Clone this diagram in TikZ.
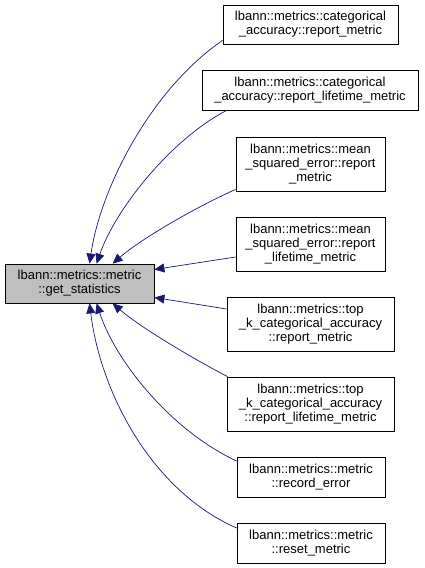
\documentclass[tikz,border=0pt]{standalone}
\usepackage{fontspec}
\setmainfont{Liberation Sans}
\usetikzlibrary{arrows.meta}
\definecolor{edgecol}{HTML}{191970}
\definecolor{mainfill}{HTML}{BFBFBF}
\begin{document}
\begin{tikzpicture}[x=1pt,y=-1pt,
  box/.style={draw=black, line width=0.8pt, fill=white, align=center, inner sep=0pt,
    font=\fontsize{13}{14}\selectfont},
  arr/.style={draw=edgecol, line width=0.7pt, -{Triangle[length=10pt,width=9pt]}}]
\useasboundingbox (0,0) rectangle (424,568);
\node[box, fill=mainfill, minimum width=149pt, minimum height=39pt] (main) at (79.5,283.5) {lbann::metrics::metric\\::get\_statistics};
\node[box, minimum width=175pt, minimum height=39pt] (n1) at (310.5,24.5) {lbann::metrics::categorical\\\_accuracy::report\_metric};
\node[box, minimum width=216pt, minimum height=40pt] (n2) at (310,90) {lbann::metrics::categorical\\\_accuracy::report\_lifetime\_metric};
\node[box, minimum width=149pt, minimum height=54pt] (n3) at (310.5,164) {lbann::metrics::mean\\\_squared\_error::report\\\_metric};
\node[box, minimum width=149pt, minimum height=54pt] (n4) at (310.5,244) {lbann::metrics::mean\\\_squared\_error::report\\\_lifetime\_metric};
\node[box, minimum width=167pt, minimum height=54pt] (n5) at (310.5,324) {lbann::metrics::top\\\_k\_categorical\_accuracy\\::report\_metric};
\node[box, minimum width=167pt, minimum height=54pt] (n6) at (310.5,404) {lbann::metrics::top\\\_k\_categorical\_accuracy\\::report\_lifetime\_metric};
\node[box, minimum width=148pt, minimum height=40pt] (n7) at (311,477) {lbann::metrics::metric\\::record\_error};
\node[box, minimum width=148pt, minimum height=40pt] (n8) at (311,543) {lbann::metrics::metric\\::reset\_metric};

\draw[arr] ([yshift=4pt]n1.south west) .. controls (150,90) and (100,190) .. ([xshift=85pt]main.north west);
\draw[arr] ([xshift=25pt]n2.south west) .. controls (170,140) and (115,210) .. ([xshift=92pt]main.north west);
\draw[arr] ([yshift=2pt]n3.south west) .. controls (190,210) and (140,240) .. ([xshift=108pt]main.north west);
\draw[arr] ([yshift=-13pt]n4.west) -- ([yshift=14pt]main.east);
\draw[arr] ([yshift=15pt]n5.west) -- ([yshift=-14pt]main.east);
\draw[arr] ([xshift=1pt]n6.north west) .. controls (190,357) and (140,327) .. ([xshift=108pt]main.south west);
\draw[arr] ([yshift=16pt]n7.west) .. controls (170,430) and (115,360) .. ([xshift=92pt]main.south west);
\draw[arr] ([yshift=15pt]n8.west) .. controls (150,490) and (100,390) .. ([xshift=85pt]main.south west);
\end{tikzpicture}
\end{document}
